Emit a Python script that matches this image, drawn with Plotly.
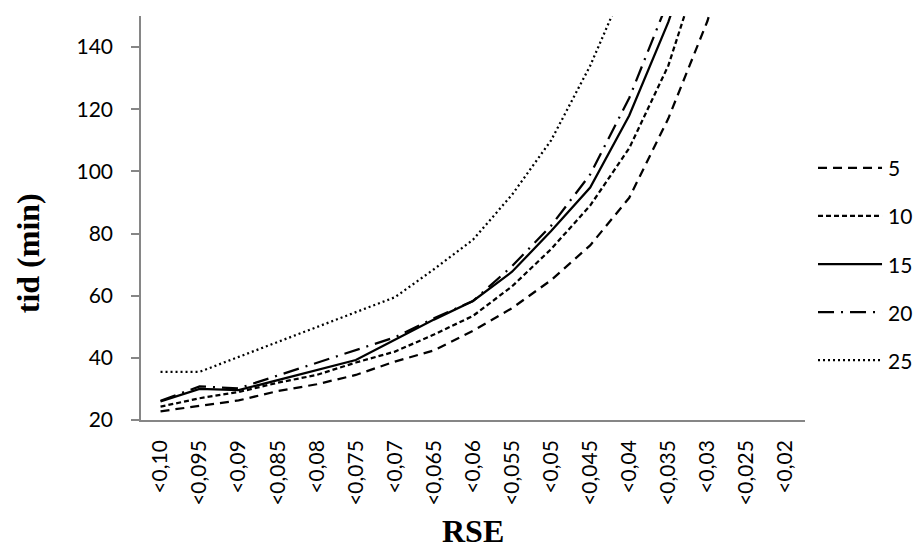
import plotly.graph_objects as go

categories = ["<0,10", "<0,095", "<0,09", "<0,085", "<0,08", "<0,075", "<0,07", "<0,065",
              "<0,06", "<0,055", "<0,05", "<0,045", "<0,04", "<0,035", "<0,03", "<0,025", "<0,02"]

s5 = [22.8, 24.5, 26.3, 29.3, 31.5, 34.5, 38.8, 42.4, 48.7, 56.0, 65.0, 76.2, 91.5, 117.0, 148.3, 190.0, None]
s10 = [24.3, 27.0, 29.0, 32.0, 34.5, 38.5, 42.0, 47.5, 53.5, 63.0, 75.0, 89.0, 107.5, 134.0, 173.0, None, None]
s15 = [26.0, 30.0, 29.6, 32.8, 36.0, 39.3, 45.8, 52.3, 58.3, 67.7, 80.8, 94.8, 118.0, 148.0, 185.0, None, None]
s20 = [26.2, 30.8, 30.2, 34.3, 38.3, 42.3, 46.6, 52.7, 58.3, 69.5, 82.5, 99.0, 123.6, 155.0, None, None, None]
s25 = [35.5, 35.5, 40.3, 45.1, 49.8, 54.6, 59.5, 68.5, 78.0, 92.5, 110.0, 134.0, 163.0, None, None, None, None]

series_names = ["5", "10", "15", "20", "25"]
series_values = [s5, s10, s15, s20, s25]
dashes = ["9px,6px", "5px,3px", "solid", "16px,7px,2px,7px", "2px,3px"]

tick_font = dict(family="Lato, Open Sans, sans-serif", size=21, color="black")
title_font = dict(family="Liberation Serif, Times New Roman, serif", size=32, color="black")

fig = go.Figure()
for name, vals, dash in zip(series_names, series_values, dashes):
    fig.add_trace(go.Scatter(
        x=categories, y=vals, name=name, mode="lines",
        line=dict(color="black", width=2.25, dash=dash),
        connectgaps=False, showlegend=False,
    ))

# Legend drawn as line samples with text labels to the right of the plot
shapes = []
annotations = []
legend_top = 0.624   # paper y of first entry
legend_step = 0.119  # paper spacing between entries
for k, (name, dash) in enumerate(zip(series_names, dashes)):
    yk = legend_top - k * legend_step
    shapes.append(dict(type="line", xref="paper", yref="paper",
                       x0=1.0196, x1=1.1160, y0=yk, y1=yk,
                       line=dict(color="black", width=2.25, dash=dash)))
    annotations.append(dict(text=name, xref="paper", yref="paper", x=1.1220, y=yk,
                            xanchor="left", yanchor="middle", showarrow=False,
                            font=tick_font))

annotations += [
    dict(text="<b>tid (min)</b>", xref="paper", yref="paper", x=-0.170, y=0.413,
         textangle=-90, showarrow=False, xanchor="center", yanchor="middle",
         font=title_font),
    dict(text="<b>RSE</b>", xref="paper", yref="paper", x=0.5, y=-0.275,
         showarrow=False, xanchor="center", yanchor="middle",
         font=title_font),
]

# The page body adds an 8px offset; the figure is sized/margined to compensate
fig.update_layout(
    width=915, height=544,
    margin=dict(l=133, r=118, t=8, b=132, autoexpand=False),
    paper_bgcolor="white", plot_bgcolor="white",
    showlegend=False,
    xaxis=dict(type="category", categoryorder="array", categoryarray=categories,
               range=[-0.5, len(categories) - 0.5], automargin=False,
               showline=True, linecolor="#868686", linewidth=1.5,
               ticks="", tickangle=-90, tickfont=tick_font,
               showgrid=False, zeroline=False, ticklabelstandoff=10),
    yaxis=dict(range=[20, 150], dtick=20, tick0=20, automargin=False,
               showline=True, linecolor="#868686", linewidth=1.5,
               ticks="outside", ticklen=8, tickcolor="#868686", tickwidth=1.5,
               tickfont=tick_font, showgrid=False, zeroline=False,
               ticklabelstandoff=14),
    shapes=shapes,
    annotations=annotations,
)

fig.write_html("out.html")
